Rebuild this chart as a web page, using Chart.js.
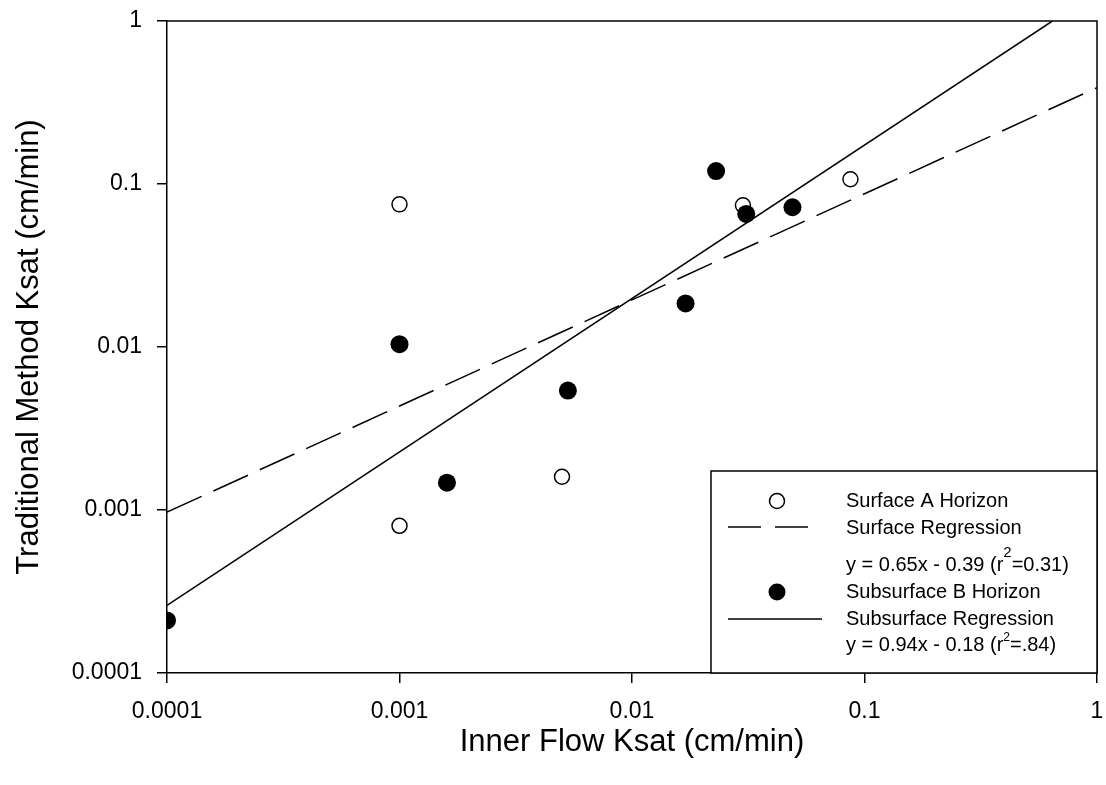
<!DOCTYPE html>
<html>
<head>
<meta charset="utf-8">
<script src="https://cdn.jsdelivr.net/npm/chart.js@4.4.0/dist/chart.umd.min.js"></script>
<style>
  html, body { margin: 0; padding: 0; background: #fff; }
  #wrap { width: 1106px; height: 785px; position: relative; }
</style>
</head>
<body>
<div id="wrap"><canvas id="c" width="1106" height="785"></canvas></div>
<script>
// ---- data ----
const xTickValues = [0.0001, 0.001, 0.01, 0.1, 1];
const xTickLabels = ['0.0001', '0.001', '0.01', '0.1', '1'];
const yTickValues = [0.0001, 0.001, 0.01, 0.1, 1];
const yTickLabels = ['0.0001', '0.001', '0.01', '0.1', '1'];

const surfaceX = [0.001, 0.001, 0.005, 0.030, 0.087];
const surfaceY = [0.075, 0.0008, 0.0016, 0.074, 0.107];

const subsurfaceX = [0.0001, 0.001, 0.0016, 0.0053, 0.017, 0.023, 0.031, 0.049];
const subsurfaceY = [0.00021, 0.0104, 0.00147, 0.0054, 0.0185, 0.120, 0.0655, 0.072];

const surfaceRegX = [0.0001, 1];
const surfaceRegY = [0.00097, 0.39];
const subsurfaceRegX = [0.0001, 0.643];
const subsurfaceRegY = [0.00026, 1];

const xTitle = 'Inner Flow Ksat (cm/min)';
const yTitle = 'Traditional Method Ksat (cm/min)';

const legendLabels = ['Surface A Horizon', 'Surface Regression', 'Subsurface B Horizon', 'Subsurface Regression'];
const legendEq1 = ['y = 0.65x - 0.39 (r', '2', '=0.31)'];
const legendEq2 = ['y = 0.94x - 0.18 (r', '2', '=.84)'];

const FONT = '"Liberation Sans", Arial, Helvetica, sans-serif';

function pts(xs, ys) { return xs.map((x, i) => ({x: x, y: ys[i]})); }

const framePlugin = {
  id: 'frame',
  afterDraw(chart) {
    const {ctx, chartArea: a} = chart;
    ctx.save();
    ctx.strokeStyle = '#000';
    ctx.lineWidth = 1.5;
    ctx.beginPath();
    ctx.moveTo(a.left, a.top);
    ctx.lineTo(a.right, a.top);
    ctx.lineTo(a.right, a.bottom);
    ctx.stroke();

    // legend box
    const bx = 711, by = 471, bw = a.right - 711, bh = a.bottom - 471;
    ctx.fillStyle = '#fff';
    ctx.fillRect(bx, by, bw, bh);
    ctx.strokeRect(bx, by, bw, bh);

    const tx = 846;
    ctx.fillStyle = '#000';
    ctx.font = '20px ' + FONT;
    ctx.textBaseline = 'middle';
    ctx.textAlign = 'left';

    // row 1: open circle
    ctx.beginPath();
    ctx.arc(777, 501, 7.5, 0, Math.PI * 2);
    ctx.fillStyle = '#fff'; ctx.fill();
    ctx.lineWidth = 1.5; ctx.strokeStyle = '#000'; ctx.stroke();
    ctx.fillStyle = '#000';
    ctx.fillText(legendLabels[0], tx, 501);

    // row 2: dashed line
    ctx.beginPath();
    ctx.setLineDash([33, 14]);
    ctx.moveTo(728, 527); ctx.lineTo(809, 527);
    ctx.stroke();
    ctx.setLineDash([]);
    ctx.fillText(legendLabels[1], tx, 528);

    // row 3: equation 1
    let x = tx;
    ctx.fillText(legendEq1[0], x, 565);
    x += ctx.measureText(legendEq1[0]).width;
    ctx.font = '15px ' + FONT;
    ctx.fillText(legendEq1[1], x, 553);
    x += ctx.measureText(legendEq1[1]).width;
    ctx.font = '20px ' + FONT;
    ctx.fillText(legendEq1[2], x, 565);

    // row 4: filled circle
    ctx.beginPath();
    ctx.arc(777, 592, 8.5, 0, Math.PI * 2);
    ctx.fill();
    ctx.fillText(legendLabels[2], tx, 592);

    // row 5: solid line
    ctx.beginPath();
    ctx.moveTo(728, 619); ctx.lineTo(822, 619);
    ctx.stroke();
    ctx.fillText(legendLabels[3], tx, 619);

    // row 6: equation 2
    x = tx;
    ctx.fillText(legendEq2[0], x, 645);
    x += ctx.measureText(legendEq2[0]).width;
    ctx.font = '12px ' + FONT;
    ctx.fillText(legendEq2[1], x, 638);
    x += ctx.measureText(legendEq2[1]).width;
    ctx.font = '20px ' + FONT;
    ctx.fillText(legendEq2[2], x, 645);

    ctx.restore();
  }
};

new Chart(document.getElementById('c'), {
  type: 'scatter',
  data: {
    datasets: [
      {
        label: legendLabels[2],
        data: pts(subsurfaceX, subsurfaceY),
        pointStyle: 'circle',
        pointRadius: 9,
        pointBackgroundColor: '#000',
        pointBorderColor: '#000',
        pointBorderWidth: 0,
        order: 0
      },
      {
        label: legendLabels[0],
        data: pts(surfaceX, surfaceY),
        pointStyle: 'circle',
        pointRadius: 7.5,
        pointBackgroundColor: '#fff',
        pointBorderColor: '#000',
        pointBorderWidth: 1.5,
        order: 1
      },
      {
        label: legendLabels[3],
        data: pts(subsurfaceRegX, subsurfaceRegY),
        showLine: true,
        pointRadius: 0,
        borderColor: '#000',
        borderWidth: 1.5,
        order: 2
      },
      {
        label: legendLabels[1],
        data: pts(surfaceRegX, surfaceRegY),
        showLine: true,
        pointRadius: 0,
        borderColor: '#000',
        borderWidth: 1.5,
        borderDash: [38, 13],
        order: 3
      }
    ]
  },
  options: {
    responsive: false,
    animation: false,
    events: [],
    layout: { padding: { top: 21, right: 8, left: 0, bottom: 0 } },
    plugins: { legend: { display: false }, tooltip: { enabled: false } },
    scales: {
      x: {
        type: 'logarithmic',
        min: 0.0001, max: 1,
        afterFit(s) { s.height = 112; s.paddingLeft = 0; s.paddingRight = 0; },
        afterBuildTicks(s) { s.ticks = xTickValues.map(v => ({value: v})); },
        grid: { display: true, drawOnChartArea: false, drawTicks: true, tickLength: 10, color: '#000', lineWidth: 1.5 },
        border: { display: true, color: '#000', width: 1.5 },
        ticks: {
          autoSkip: false, maxRotation: 0, padding: 15,
          color: '#000',
          font: { family: FONT, size: 23 },
          callback: (v, i) => xTickLabels[i]
        },
        title: {
          display: true, text: xTitle, color: '#000',
          font: { family: FONT, size: 31 },
          padding: { top: 0, bottom: 24 }
        }
      },
      y: {
        type: 'logarithmic',
        min: 0.0001, max: 1,
        afterFit(s) { s.width = 167; s.paddingTop = 0; s.paddingBottom = 0; },
        afterBuildTicks(s) { s.ticks = yTickValues.map(v => ({value: v})); },
        grid: { display: true, drawOnChartArea: false, drawTicks: true, tickLength: 10, color: '#000', lineWidth: 1.5 },
        border: { display: true, color: '#000', width: 1.5 },
        ticks: {
          autoSkip: false, padding: 15,
          color: '#000',
          font: { family: FONT, size: 23 },
          callback: (v, i) => yTickLabels[i]
        },
        title: {
          display: true, text: yTitle, color: '#000',
          font: { family: FONT, size: 31 },
          padding: { top: 11, bottom: 0 }
        }
      }
    }
  },
  plugins: [framePlugin]
});
</script>
</body>
</html>
